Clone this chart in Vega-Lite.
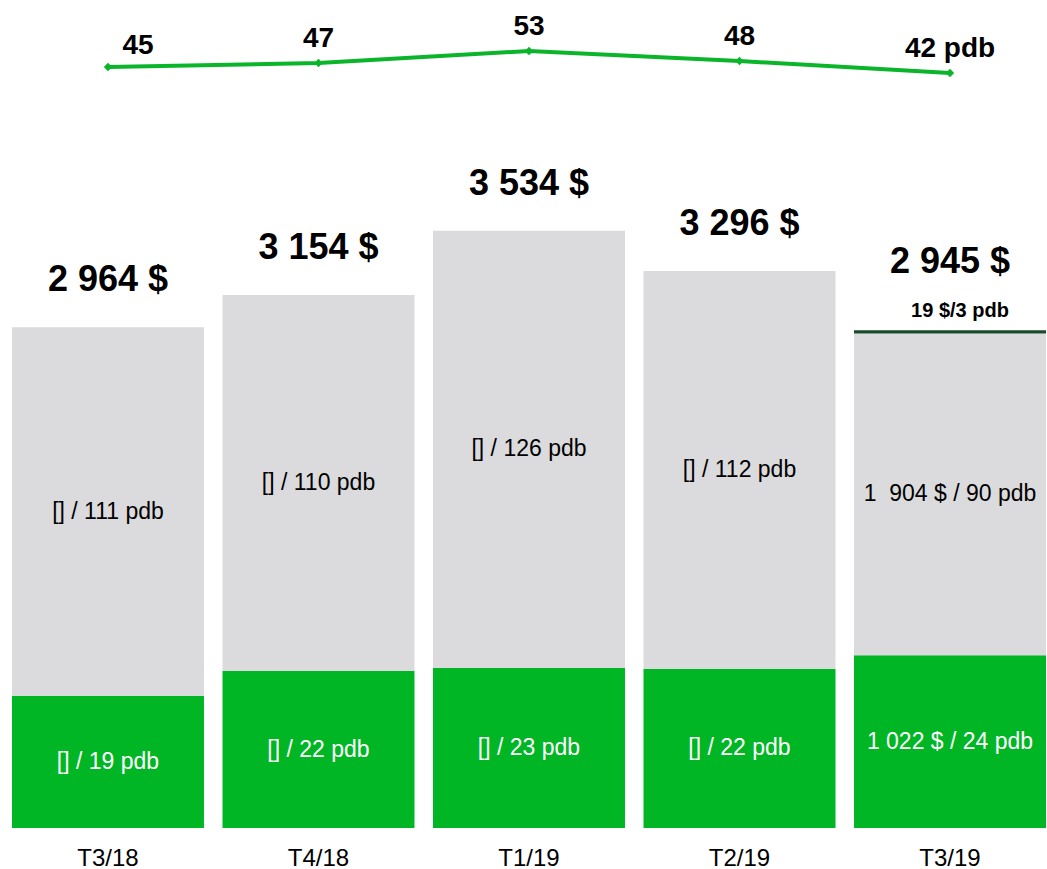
{
  "$schema": "https://vega.github.io/schema/vega-lite/v6.json",
  "autosize": {"type": "none"},
  "padding": {"left": 12, "top": 0, "right": 1, "bottom": 41},
  "width": 1034,
  "height": 828,
  "background": "white",
  "config": {
    "view": {"stroke": null},
    "font": "Liberation Sans",
    "text": {"font": "Liberation Sans"}
  },
  "datasets": {
    "segments": [
      {"period": "T3/18", "part": "bottom", "value": 782, "label": "[] / 19 pdb"},
      {"period": "T3/18", "part": "middle", "value": 2182, "label": "[] / 111 pdb"},
      {"period": "T4/18", "part": "bottom", "value": 929, "label": "[] / 22 pdb"},
      {"period": "T4/18", "part": "middle", "value": 2225, "label": "[] / 110 pdb"},
      {"period": "T1/19", "part": "bottom", "value": 947, "label": "[] / 23 pdb"},
      {"period": "T1/19", "part": "middle", "value": 2587, "label": "[] / 126 pdb"},
      {"period": "T2/19", "part": "bottom", "value": 941, "label": "[] / 22 pdb"},
      {"period": "T2/19", "part": "middle", "value": 2355, "label": "[] / 112 pdb"},
      {"period": "T3/19", "part": "bottom", "value": 1022, "label": "1 022 $ / 24 pdb"},
      {"period": "T3/19", "part": "middle", "value": 1904, "label": "1\u00a0 904 $ / 90 pdb"},
      {"period": "T3/19", "part": "top", "value": 19, "label": ""}
    ],
    "totals": [
      {"period": "T3/18", "total": 2964, "label": "2 964 $", "note": ""},
      {"period": "T4/18", "total": 3154, "label": "3 154 $", "note": ""},
      {"period": "T1/19", "total": 3534, "label": "3 534 $", "note": ""},
      {"period": "T2/19", "total": 3296, "label": "3 296 $", "note": ""},
      {"period": "T3/19", "total": 2945, "label": "2 945 $", "note": "19 $/3 pdb"}
    ],
    "line": [
      {"period": "T3/18", "value": 45, "label": "45"},
      {"period": "T4/18", "value": 47, "label": "47"},
      {"period": "T1/19", "value": 53, "label": "53"},
      {"period": "T2/19", "value": 48, "label": "48"},
      {"period": "T3/19", "value": 42, "label": "42 pdb"}
    ]
  },
  "encoding": {
    "x": {
      "field": "period",
      "type": "nominal",
      "sort": ["T3/18", "T4/18", "T1/19", "T2/19", "T3/19"],
      "scale": {"paddingInner": 0.088, "paddingOuter": 0},
      "axis": {
        "title": null,
        "domain": false,
        "ticks": false,
        "labelAngle": 0,
        "labelFontSize": 24,
        "labelColor": "#000000",
        "labelFont": "Liberation Sans",
        "labelPadding": 18
      }
    }
  },
  "layer": [
    {
      "layer": [
        {
          "data": {"name": "segments"},
          "transform": [
            {"stack": "value", "groupby": ["period"], "sort": [{"field": "part", "order": "ascending"}], "as": ["y0", "y1"]}
          ],
          "mark": {"type": "bar"},
          "encoding": {
            "y": {"field": "y0", "type": "quantitative", "scale": {"domain": [0, 4900]}, "axis": null},
            "y2": {"field": "y1"},
            "color": {
              "field": "part",
              "type": "nominal",
              "scale": {"domain": ["bottom", "middle", "top"], "range": ["#00B624", "#DBDBDD", "#1B4A2A"]},
              "legend": null
            }
          }
        },
        {
          "data": {"name": "segments"},
          "transform": [
            {"stack": "value", "groupby": ["period"], "sort": [{"field": "part", "order": "ascending"}], "as": ["y0", "y1"]},
            {"filter": "datum.label !== ''"},
            {"fold": ["y0", "y1"], "as": ["edge", "pos"]},
            {"aggregate": [{"op": "mean", "field": "pos", "as": "mid"}], "groupby": ["period", "part", "label"]}
          ],
          "mark": {"type": "text", "fontSize": 23, "baseline": "middle", "align": "center"},
          "encoding": {
            "y": {"field": "mid", "type": "quantitative", "scale": {"domain": [0, 4900]}, "axis": null},
            "text": {"field": "label"},
            "color": {"condition": {"test": "datum.part === 'bottom'", "value": "#ffffff"}, "value": "#000000"}
          }
        },
        {
          "data": {"name": "totals"},
          "transform": [{"filter": "datum.note === ''"}],
          "mark": {"type": "text", "fontSize": 36, "fontWeight": "bold", "baseline": "alphabetic", "dy": -36, "color": "#000000"},
          "encoding": {
            "y": {"field": "total", "type": "quantitative", "scale": {"domain": [0, 4900]}, "axis": null},
            "text": {"field": "label"}
          }
        },
        {
          "data": {"name": "totals"},
          "transform": [{"filter": "datum.note !== ''"}],
          "mark": {"type": "text", "fontSize": 36, "fontWeight": "bold", "baseline": "alphabetic", "dy": -57, "color": "#000000"},
          "encoding": {
            "y": {"field": "total", "type": "quantitative", "scale": {"domain": [0, 4900]}, "axis": null},
            "text": {"field": "label"}
          }
        },
        {
          "data": {"name": "totals"},
          "transform": [{"filter": "datum.note !== ''"}],
          "mark": {"type": "text", "fontSize": 20, "fontWeight": "bold", "baseline": "alphabetic", "dy": -13, "dx": 10, "color": "#000000"},
          "encoding": {
            "y": {"field": "total", "type": "quantitative", "scale": {"domain": [0, 4900]}, "axis": null},
            "text": {"field": "note"}
          }
        }
      ]
    },
    {
      "data": {"name": "line"},
      "layer": [
        {
          "mark": {
            "type": "line",
            "color": "#0AB52A",
            "strokeWidth": 4,
            "point": {"shape": "diamond", "size": 70, "filled": true, "color": "#0AB52A"}
          },
          "encoding": {
            "y": {"field": "value", "type": "quantitative", "scale": {"domain": [-335.5, 78.5]}, "axis": null}
          }
        },
        {
          "transform": [{"filter": "datum.period !== 'T3/18'"}],
          "mark": {"type": "text", "fontSize": 28, "fontWeight": "bold", "baseline": "alphabetic", "dy": -16, "color": "#000000"},
          "encoding": {
            "y": {"field": "value", "type": "quantitative", "scale": {"domain": [-335.5, 78.5]}, "axis": null},
            "text": {"field": "label"}
          }
        },
        {
          "transform": [{"filter": "datum.period === 'T3/18'"}],
          "mark": {"type": "text", "fontSize": 28, "fontWeight": "bold", "baseline": "alphabetic", "dy": -13, "dx": 30, "color": "#000000"},
          "encoding": {
            "y": {"field": "value", "type": "quantitative", "scale": {"domain": [-335.5, 78.5]}, "axis": null},
            "text": {"field": "label"}
          }
        }
      ]
    }
  ],
  "resolve": {"scale": {"y": "independent"}}
}
